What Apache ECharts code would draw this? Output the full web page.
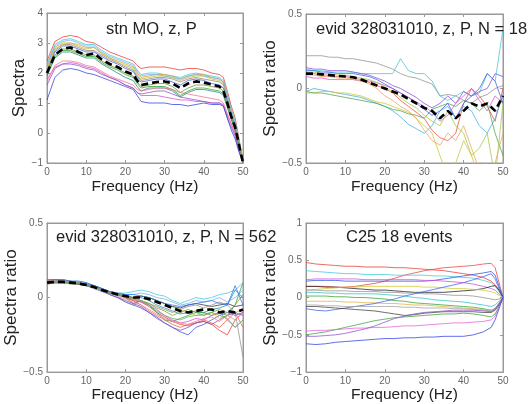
<!DOCTYPE html>
<html><head><meta charset="utf-8">
<script src="https://cdn.jsdelivr.net/npm/echarts@6/dist/echarts.min.js"></script>
<style>html,body{margin:0;padding:0;background:#fff}#c{width:531px;height:404px}</style>
</head><body><div id="c"></div>
<script>
// ---------- Panel 1: station spectra ----------
const freq1 = [0,2,4,6,8,10,12,14,16,18,20,22,23,24,26,28,30,32,34,36,38,40,42,44,45,46,47,48,49,50];
const p1Lines = [
  [2.4,3.05,3.2,3.25,3.2,3.05,3.0,2.85,2.7,2.6,2.5,2.4,2.25,2.15,2.2,2.2,2.2,2.15,2.1,2.15,2.15,2.1,2.0,1.95,1.85,1.4,0.9,0.5,-0.2,-1.0],
  [2.3,2.95,3.1,3.15,3.05,2.95,2.95,2.75,2.6,2.5,2.4,2.3,2.1,1.95,2.0,2.0,1.95,1.9,1.85,1.95,2.0,1.95,1.9,1.85,1.75,1.3,0.8,0.4,-0.3,-1.0],
  [2.2,2.85,3.0,3.0,2.95,2.85,2.85,2.65,2.5,2.4,2.3,2.2,2.0,1.85,1.9,1.95,1.95,1.9,1.8,1.9,1.95,1.95,1.85,1.8,1.7,1.2,0.7,0.3,-0.35,-1.0],
  [2.1,2.75,2.95,2.95,2.85,2.75,2.75,2.6,2.45,2.35,2.2,2.1,1.9,1.75,1.8,1.85,1.85,1.8,1.7,1.8,1.85,1.8,1.75,1.7,1.6,1.1,0.6,0.25,-0.4,-1.0],
  [2.0,2.7,2.9,2.9,2.8,2.7,2.7,2.55,2.4,2.3,2.15,2.05,1.85,1.7,1.75,1.8,1.8,1.7,1.6,1.75,1.8,1.75,1.65,1.6,1.5,1.05,0.6,0.2,-0.45,-1.0],
  [1.95,2.55,2.75,2.75,2.65,2.55,2.55,2.35,2.2,2.1,1.95,1.85,1.65,1.5,1.55,1.55,1.55,1.45,1.25,1.4,1.5,1.5,1.45,1.4,1.3,0.9,0.5,0.1,-0.5,-1.0],
  [1.9,2.5,2.7,2.7,2.6,2.5,2.5,2.3,2.15,2.0,1.85,1.75,1.55,1.4,1.5,1.5,1.5,1.4,1.2,1.35,1.45,1.45,1.4,1.35,1.25,0.85,0.45,0.05,-0.5,-1.0],
  [1.8,2.2,2.3,2.35,2.3,2.2,2.15,2.0,1.85,1.75,1.6,1.5,1.35,1.25,1.25,1.25,1.2,1.15,1.1,1.1,1.05,1.05,1.0,1.0,0.95,0.6,0.3,-0.05,-0.55,-1.0],
  [1.6,2.15,2.3,2.3,2.25,2.15,2.1,1.95,1.85,1.75,1.6,1.5,1.35,1.3,1.35,1.4,1.4,1.3,1.2,1.15,1.1,1.05,1.0,1.0,0.9,0.5,0.2,-0.1,-0.6,-1.0],
  [1.1,1.85,2.1,2.15,2.1,2.0,1.95,1.85,1.75,1.65,1.55,1.45,1.25,1.05,1.0,1.0,1.0,0.95,0.95,0.9,0.95,1.0,0.95,0.95,0.9,0.5,0.1,-0.2,-0.65,-1.0],
  [1.7,2.25,2.4,2.4,2.35,2.25,2.2,2.05,1.9,1.8,1.7,1.6,1.45,1.4,1.45,1.5,1.5,1.45,1.35,1.3,1.25,1.2,1.15,1.1,1.0,0.65,0.3,0.0,-0.5,-1.0],
  [2.15,2.8,2.95,3.0,2.9,2.8,2.85,2.65,2.5,2.35,2.25,2.15,1.95,1.8,1.85,1.9,1.9,1.85,1.75,1.85,1.9,1.9,1.8,1.75,1.65,1.2,0.75,0.35,-0.3,-1.0],
  [2.25,2.9,3.05,3.1,3.0,2.9,2.9,2.7,2.55,2.45,2.35,2.25,2.05,1.9,1.95,1.95,1.9,1.85,1.8,1.9,1.95,1.9,1.85,1.8,1.7,1.25,0.75,0.35,-0.3,-1.0],
  [2.05,2.6,2.8,2.8,2.7,2.6,2.6,2.4,2.25,2.15,2.0,1.9,1.7,1.55,1.6,1.65,1.65,1.55,1.35,1.5,1.6,1.6,1.55,1.5,1.4,0.95,0.5,0.15,-0.45,-1.0]
];
const p1Colors = ['#e83a30','#40c8d8','#e0a030','#a08070','#4060e0','#30a030','#208878','#d050d0','#9050c0','#3040e0','#f07090','#b8c030','#70b0f0','#709030'];
const p1Mean = [2.0,2.6,2.8,2.85,2.7,2.6,2.65,2.45,2.3,2.2,2.05,1.95,1.75,1.6,1.65,1.7,1.72,1.65,1.5,1.65,1.72,1.68,1.62,1.55,1.4,1.0,0.55,0.2,-0.4,-1.0];

// ---------- Panel 2: spectral ratio, N = 18 ----------
const freq2 = [0,2,4,6,8,10,12,14,16,18,20,22,24,26,28,30,32,34,36,38,40,42,44,46,48,50];
const p2Lines = [
  [0.22,0.22,0.22,0.21,0.21,0.2,0.2,0.19,0.18,0.17,0.15,0.13,0.1,0.08,0.07,0.05,0.03,-0.05,-0.04,-0.05,-0.08,-0.1,-0.06,-0.04,0.0,0.02],
  [0.13,0.12,0.12,0.11,0.11,0.11,0.11,0.1,0.1,0.1,0.1,0.1,0.2,0.12,0.1,0.1,0.05,-0.05,-0.08,-0.05,-0.02,-0.05,-0.03,0.1,0.05,0.4],
  [0.14,0.13,0.13,0.12,0.12,0.12,0.11,0.1,0.09,0.07,0.05,0.02,0.0,-0.03,-0.06,-0.1,-0.13,-0.1,-0.05,-0.1,-0.02,-0.05,-0.02,0.0,0.1,0.08],
  [0.08,0.07,0.07,0.06,0.06,0.06,0.06,0.05,0.05,0.04,0.02,0.0,-0.03,-0.06,-0.09,-0.12,-0.16,-0.22,-0.18,-0.1,-0.05,0.0,-0.08,-0.15,-0.05,-0.1],
  [0.1,0.1,0.09,0.09,0.08,0.08,0.07,0.06,0.04,0.02,0.0,-0.03,-0.08,-0.12,-0.16,-0.2,-0.28,-0.33,-0.35,-0.3,-0.1,0.0,-0.05,-0.12,-0.22,0.0],
  [-0.02,0.0,-0.01,-0.02,-0.03,-0.04,-0.05,-0.06,-0.08,-0.1,-0.12,-0.15,-0.19,-0.24,-0.27,-0.3,-0.25,-0.15,-0.12,-0.2,-0.12,-0.15,-0.25,-0.3,-0.2,-0.05],
  [-0.03,-0.03,-0.02,-0.02,-0.03,-0.03,-0.04,-0.05,-0.07,-0.09,-0.1,-0.12,-0.14,-0.16,-0.2,-0.25,-0.3,-0.45,-0.6,-0.5,-0.35,-0.45,-0.6,-0.5,-0.6,-0.5],
  [-0.02,-0.03,-0.03,-0.04,-0.05,-0.06,-0.07,-0.08,-0.09,-0.1,-0.12,-0.14,-0.15,-0.17,-0.18,-0.2,-0.14,-0.12,-0.1,-0.12,-0.08,-0.1,-0.15,-0.1,-0.3,-0.45],
  [0.09,0.09,0.08,0.08,0.07,0.07,0.06,0.05,0.03,0.0,-0.05,-0.08,-0.12,-0.15,-0.2,-0.28,-0.35,-0.38,-0.3,-0.35,-0.25,-0.4,-0.55,-0.6,-0.5,-0.3],
  [0.12,0.12,0.11,0.11,0.1,0.1,0.1,0.09,0.08,0.06,0.03,0.0,-0.03,-0.06,-0.1,-0.14,-0.18,-0.15,-0.1,-0.2,-0.1,-0.05,0.0,0.1,0.05,-0.1],
  [0.11,0.11,0.1,0.1,0.09,0.09,0.08,0.07,0.06,0.04,0.01,-0.02,-0.06,-0.1,-0.13,-0.18,-0.22,-0.25,-0.15,-0.25,-0.3,-0.45,-0.4,-0.3,-0.6,-0.1]
];
const p2Colors = ['#909090','#40c8d8','#8050e0','#e050d0','#f04848','#40b0e0','#c8c830','#50a050','#f0a060','#4060e0','#a0c840'];
const p2Mean = [0.1,0.1,0.095,0.09,0.085,0.08,0.075,0.06,0.04,0.02,0.0,-0.02,-0.04,-0.07,-0.1,-0.13,-0.15,-0.2,-0.15,-0.2,-0.15,-0.1,-0.12,-0.1,-0.15,-0.05];

// ---------- Panel 3: spectral ratio, N = 562 ----------
const freq3 = [0,2,4,6,8,10,12,14,16,18,20,22,24,26,28,30,32,34,36,38,40,42,44,46,48,50];
const p3Lines = [
  [0.11,0.12,0.12,0.11,0.1,0.09,0.07,0.05,0.03,0.02,0.0,-0.02,-0.03,-0.06,-0.1,-0.13,-0.16,-0.18,-0.19,-0.17,-0.16,-0.18,-0.22,-0.25,-0.15,-0.1],
  [0.1,0.11,0.11,0.1,0.1,0.09,0.07,0.05,0.02,0.0,-0.03,-0.05,-0.07,-0.1,-0.13,-0.17,-0.2,-0.23,-0.25,-0.2,-0.18,-0.15,-0.12,-0.1,-0.12,-0.1],
  [0.09,0.1,0.1,0.1,0.09,0.08,0.07,0.05,0.03,0.02,0.0,-0.04,-0.02,-0.05,-0.1,-0.15,-0.16,-0.14,-0.12,-0.1,-0.1,-0.12,-0.1,-0.12,-0.05,0.1],
  [0.12,0.12,0.12,0.11,0.11,0.1,0.08,0.06,0.04,0.03,0.03,0.04,0.05,0.04,0.02,0.01,-0.02,-0.04,-0.02,0.0,-0.01,0.0,0.02,0.03,0.05,0.1],
  [0.1,0.11,0.11,0.1,0.1,0.09,0.08,0.06,0.04,0.02,0.0,-0.01,-0.03,-0.05,-0.08,-0.12,-0.15,-0.17,-0.16,-0.14,-0.15,-0.12,-0.1,-0.15,-0.2,-0.15],
  [0.11,0.11,0.11,0.11,0.1,0.09,0.08,0.06,0.04,0.03,0.01,0.0,0.01,0.0,-0.02,-0.04,-0.06,-0.08,-0.1,-0.12,-0.12,-0.1,-0.14,-0.12,-0.1,-0.08],
  [0.1,0.1,0.1,0.1,0.09,0.08,0.07,0.05,0.03,0.02,0.01,0.0,0.01,0.0,-0.02,-0.04,-0.06,-0.07,-0.05,-0.04,-0.05,-0.06,-0.05,-0.04,-0.06,-0.05],
  [0.09,0.1,0.1,0.09,0.09,0.08,0.07,0.05,0.03,0.01,-0.03,-0.05,-0.02,-0.04,-0.06,-0.08,-0.1,-0.08,-0.06,-0.05,-0.07,-0.05,-0.03,-0.05,-0.1,-0.4],
  [0.11,0.12,0.11,0.11,0.1,0.09,0.08,0.06,0.04,0.02,0.0,-0.02,-0.05,-0.09,-0.12,-0.15,-0.18,-0.2,-0.18,-0.17,-0.15,-0.17,-0.2,-0.15,-0.1,-0.2],
  [0.1,0.11,0.11,0.1,0.1,0.09,0.08,0.06,0.04,0.03,0.02,0.02,0.03,0.02,0.0,-0.01,-0.03,-0.05,-0.04,-0.02,-0.03,-0.02,0.0,-0.03,0.0,0.05],
  [0.11,0.11,0.11,0.1,0.1,0.09,0.08,0.06,0.04,0.02,0.01,0.0,0.0,-0.02,-0.05,-0.07,-0.09,-0.11,-0.1,-0.09,-0.1,-0.08,-0.07,-0.05,0.05,0.0],
  [0.1,0.1,0.1,0.1,0.09,0.08,0.06,0.04,0.02,0.0,-0.02,-0.04,-0.06,-0.1,-0.14,-0.17,-0.2,-0.22,-0.2,-0.17,-0.16,-0.18,-0.15,-0.12,-0.1,-0.12],
  [0.11,0.11,0.11,0.1,0.1,0.09,0.07,0.05,0.03,0.01,-0.01,-0.03,-0.05,-0.08,-0.11,-0.14,-0.16,-0.17,-0.18,-0.16,-0.14,-0.13,-0.16,-0.12,-0.15,-0.1],
  [0.1,0.1,0.1,0.1,0.09,0.08,0.07,0.05,0.03,0.02,0.0,-0.01,-0.02,-0.04,-0.07,-0.09,-0.12,-0.1,-0.08,-0.1,-0.12,-0.1,-0.08,-0.1,-0.05,0.02],
  [0.12,0.12,0.12,0.11,0.11,0.1,0.08,0.06,0.04,0.03,0.02,0.02,0.01,0.0,-0.02,-0.04,-0.05,-0.06,-0.05,-0.04,-0.03,-0.02,-0.04,-0.05,0.08,-0.05],
  [0.1,0.1,0.1,0.1,0.1,0.09,0.07,0.05,0.03,0.02,0.01,0.0,-0.02,-0.05,-0.09,-0.12,-0.14,-0.15,-0.13,-0.12,-0.11,-0.1,-0.12,-0.14,-0.2,-0.15]
];
const p3Colors = ['#e83a30','#4050e0','#30a030','#40c8d8','#d050d0','#d0c830','#303030','#909090','#f06040','#70b0f0','#209090','#8050c0','#f080a0','#889930','#3070f0','#60b060'];
const p3Mean = [0.1,0.105,0.105,0.1,0.095,0.085,0.07,0.05,0.035,0.02,0.01,0.0,0.0,-0.01,-0.03,-0.05,-0.07,-0.09,-0.1,-0.09,-0.08,-0.08,-0.1,-0.09,-0.1,-0.08];

// ---------- Panel 4: C25 18 events ----------
const freq4 = [0,2.5,5,7.5,10,12.5,15,17.5,20,22.5,25,27.5,30,32.5,35,37.5,40,42.5,45,47,48,49,50];
const p4Lines = [
  [0.47,0.45,0.44,0.43,0.42,0.42,0.41,0.41,0.41,0.40,0.40,0.39,0.38,0.37,0.36,0.34,0.32,0.30,0.27,0.22,0.17,0.1,0.0],
  [0.15,0.15,0.15,0.14,0.14,0.15,0.17,0.19,0.22,0.26,0.30,0.33,0.36,0.38,0.40,0.41,0.42,0.43,0.45,0.46,0.4,0.2,0.0],
  [0.36,0.35,0.34,0.33,0.32,0.32,0.31,0.31,0.31,0.30,0.30,0.30,0.30,0.29,0.29,0.28,0.27,0.26,0.23,0.2,0.15,0.08,0.0],
  [0.22,0.23,0.23,0.23,0.22,0.22,0.22,0.22,0.22,0.22,0.22,0.22,0.22,0.23,0.25,0.27,0.29,0.31,0.33,0.35,0.3,0.15,0.0],
  [0.24,0.25,0.25,0.25,0.25,0.25,0.24,0.24,0.24,0.24,0.24,0.24,0.23,0.23,0.22,0.21,0.2,0.18,0.15,0.12,0.1,0.05,0.0],
  [0.15,0.15,0.14,0.14,0.13,0.12,0.11,0.1,0.1,0.09,0.08,0.07,0.07,0.07,0.07,0.08,0.09,0.1,0.12,0.15,0.16,0.1,0.0],
  [0.1,0.11,0.12,0.13,0.14,0.14,0.15,0.15,0.15,0.15,0.15,0.15,0.14,0.14,0.13,0.12,0.12,0.11,0.1,0.08,0.06,0.03,0.0],
  [0.1,0.1,0.09,0.09,0.09,0.08,0.08,0.08,0.07,0.07,0.06,0.06,0.05,0.05,0.04,0.03,0.03,0.02,0.0,-0.02,-0.03,-0.02,0.0],
  [0.07,0.07,0.06,0.06,0.05,0.05,0.05,0.05,0.04,0.03,0.02,0.0,-0.01,-0.03,-0.04,-0.05,-0.06,-0.08,-0.1,-0.12,-0.1,-0.05,0.0],
  [0.02,0.02,0.02,0.01,0.01,0.0,0.0,-0.01,-0.02,-0.04,-0.05,-0.07,-0.08,-0.09,-0.1,-0.11,-0.12,-0.13,-0.15,-0.17,-0.15,-0.08,0.0],
  [-0.05,-0.05,-0.05,-0.05,-0.06,-0.06,-0.07,-0.07,-0.08,-0.08,-0.09,-0.1,-0.1,-0.11,-0.12,-0.13,-0.14,-0.15,-0.16,-0.17,-0.15,-0.1,0.0],
  [-0.15,-0.17,-0.18,-0.16,-0.14,-0.12,-0.1,-0.08,-0.05,-0.02,0.02,0.05,0.08,0.11,0.14,0.17,0.2,0.24,0.28,0.32,0.25,0.12,0.0],
  [-0.1,-0.1,-0.11,-0.11,-0.12,-0.12,-0.12,-0.12,-0.12,-0.12,-0.13,-0.13,-0.14,-0.14,-0.14,-0.15,-0.15,-0.16,-0.17,-0.18,-0.15,-0.08,0.0],
  [-0.12,-0.12,-0.13,-0.14,-0.15,-0.16,-0.17,-0.18,-0.2,-0.22,-0.24,-0.23,-0.21,-0.2,-0.19,-0.19,-0.19,-0.19,-0.2,-0.2,-0.17,-0.1,0.0],
  [-0.5,-0.48,-0.46,-0.43,-0.4,-0.37,-0.34,-0.31,-0.29,-0.27,-0.26,-0.25,-0.24,-0.23,-0.22,-0.22,-0.21,-0.22,-0.24,-0.26,-0.22,-0.12,0.0],
  [-0.45,-0.44,-0.44,-0.43,-0.42,-0.41,-0.41,-0.40,-0.40,-0.39,-0.38,-0.38,-0.37,-0.36,-0.35,-0.34,-0.34,-0.33,-0.32,-0.3,-0.25,-0.12,0.0],
  [-0.52,-0.52,-0.51,-0.5,-0.48,-0.45,-0.42,-0.38,-0.33,-0.28,-0.25,-0.22,-0.2,-0.19,-0.18,-0.17,-0.17,-0.17,-0.18,-0.19,-0.15,-0.08,0.0],
  [-0.62,-0.63,-0.62,-0.6,-0.59,-0.58,-0.57,-0.56,-0.55,-0.55,-0.54,-0.54,-0.53,-0.53,-0.52,-0.52,-0.52,-0.5,-0.46,-0.4,-0.3,-0.15,0.0]
];
const p4Colors = ['#e83a30','#e84040','#40c8d8','#3050e0','#d050d0','#202020','#d0c830','#909090','#30c0c8','#30a030','#e0b040','#4060f0','#a0a0a0','#404040','#40a040','#e060e0','#9050d0','#3040e0'];

const panelTitles = ['stn MO, z, P','evid 328031010, z, P, N = 18','evid 328031010, z, P, N = 562','C25 18 events'];
const yNames = ['Spectra','Spectra ratio','Spectra ratio','Spectra ratio'];
const yRanges = [[-1,4,1],[-0.5,0.5,0.5],[-0.5,0.5,0.5],[-1,1,0.5]];
const xTicks = [0,10,20,30,40,50];

// ---------- build ----------
const FONT = 'Liberation Sans, Arial, sans-serif';
const grids = [
  {left:47, top:13, width:196, height:150},
  {left:306, top:14, width:197, height:149},
  {left:47, top:223, width:196, height:150},
  {left:306, top:223, width:197, height:150}
];
const xNameGap = [16,16,12,12];
const yNameGap = [19,26,26,27];
const titlePos = [[106,21],[316,21],[56,229],[346,229]];
const boxColor = '#999';
const fmt = v => String(v).replace('-', '\u2212');

const xAxis = [], yAxis = [], series = [], title = [];
grids.forEach((g, i) => {
  g.show = true; g.borderColor = boxColor; g.borderWidth = 1; g.containLabel = false;
  const tick = {show:true, inside:true, length:3, lineStyle:{color:boxColor}};
  const line = {show:true, onZero:false, lineStyle:{color:boxColor}};
  xAxis.push({type:'value', gridIndex:i, position:'bottom', min:xTicks[0], max:xTicks[xTicks.length-1], interval:10,
    axisLine:line, axisTick:tick, splitLine:{show:false},
    axisLabel:{color:'#666', fontSize:10, fontFamily:FONT, margin:4, formatter:fmt},
    name:'Frequency (Hz)', nameLocation:'middle', nameGap:xNameGap[i],
    nameTextStyle:{fontSize:15.5, color:'#222', fontFamily:FONT}});
  xAxis.push({type:'value', gridIndex:i, position:'top', min:xTicks[0], max:xTicks[xTicks.length-1], interval:10,
    axisLine:line, axisTick:tick, axisLabel:{show:false}, splitLine:{show:false}});
  const r = yRanges[i];
  yAxis.push({type:'value', gridIndex:i, position:'left', min:r[0], max:r[1], interval:r[2],
    axisLine:line, axisTick:tick, splitLine:{show:false},
    axisLabel:{color:'#666', fontSize:10, fontFamily:FONT, margin:4, formatter:fmt},
    name:yNames[i], nameLocation:'middle', nameGap:yNameGap[i],
    nameTextStyle:{fontSize:17, color:'#222', fontFamily:FONT}});
  yAxis.push({type:'value', gridIndex:i, position:'right', min:r[0], max:r[1], interval:r[2],
    axisLine:line, axisTick:tick, axisLabel:{show:false}, splitLine:{show:false}});
  title.push({text:panelTitles[i], left:titlePos[i][0], top:titlePos[i][1], padding:0,
    textStyle:{fontSize:16.5, fontWeight:'normal', color:'#222', fontFamily:FONT}});
});

function addPanel(idx, freq, lines, colors, mean) {
  lines.forEach((vals, k) => {
    series.push({type:'line', xAxisIndex:idx*2, yAxisIndex:idx*2, showSymbol:false, symbol:'none',
      animation:false, clip:true, silent:true,
      lineStyle:{width:0.9, color:colors[k % colors.length], opacity:0.85},
      data:freq.map((f, j) => [f, vals[j]])});
  });
  if (mean) {
    series.push({type:'line', xAxisIndex:idx*2, yAxisIndex:idx*2, showSymbol:false, symbol:'none',
      animation:false, clip:true, silent:true, z:5,
      lineStyle:{width:2.6, color:'#000', type:[7,4]},
      data:freq.map((f, j) => [f, mean[j]])});
  }
}
addPanel(0, freq1, p1Lines, p1Colors, p1Mean);
addPanel(1, freq2, p2Lines, p2Colors, p2Mean);
addPanel(2, freq3, p3Lines, p3Colors, p3Mean);
addPanel(3, freq4, p4Lines, p4Colors, null);

const chart = echarts.init(document.getElementById('c'), null, {renderer:'canvas'});
chart.setOption({animation:false, backgroundColor:'#fff', title, grid:grids, xAxis, yAxis, series});
</script></body></html>
